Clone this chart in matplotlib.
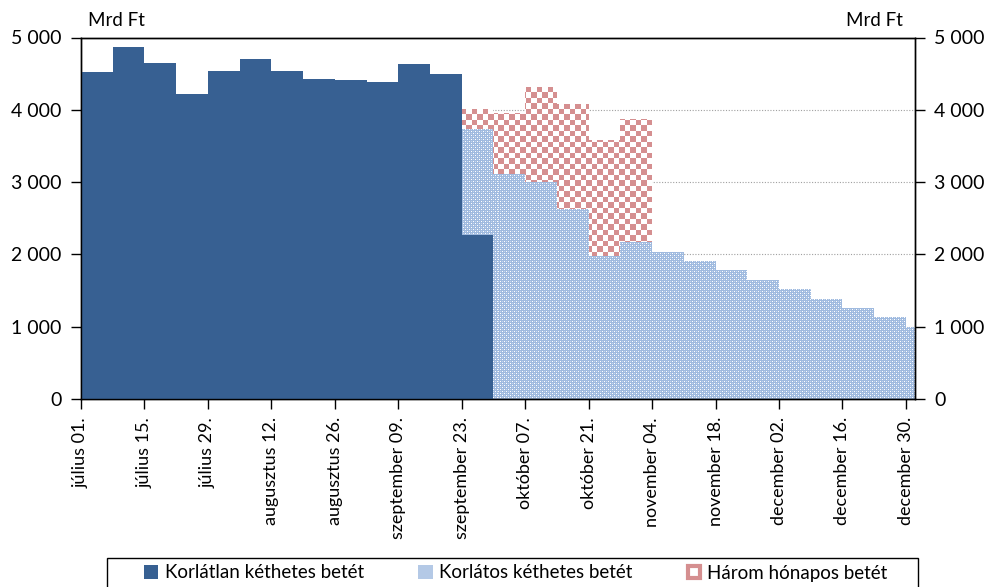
import numpy as np
import pandas as pd
import matplotlib
matplotlib.use('Agg')
import matplotlib.pyplot as plt
import matplotlib.dates as mdates
from matplotlib.lines import Line2D
from matplotlib.patches import Patch, Rectangle

plt.rcParams['font.family'] = ['Lato', 'DejaVu Sans']

# weekly values (Mrd Ft), week starting dates from 2015-07-01
weeks = pd.date_range('2015-07-01', periods=27, freq='7D')
x_end = pd.Timestamp('2016-01-01')

unlimited = [4527, 4864, 4643, 4219, 4541, 4698, 4532, 4422, 4408, 4389, 4633, 4500,
             2262, 0, 0, 0, 0, 0, 0, 0, 0, 0, 0, 0, 0, 0, 0]
limited = [0, 0, 0, 0, 0, 0, 0, 0, 0, 0, 0, 0,
           1468, 3112, 3006, 2628, 1982, 2167, 2037, 1909, 1780, 1646, 1517, 1387, 1254, 1130, 990]
three_month = [0, 0, 0, 0, 0, 0, 0, 0, 0, 0, 0, 0,
               285, 839, 1314, 1452, 1600, 1706, 0, 0, 0, 0, 0, 0, 0, 0, 0]

tick_dates = pd.date_range('2015-07-01', periods=14, freq='14D')
tick_labels = ['július 01.', 'július 15.', 'július 29.', 'augusztus 12.', 'augusztus 26.',
               'szeptember 09.', 'szeptember 23.', 'október 07.', 'október 21.',
               'november 04.', 'november 18.', 'december 02.', 'december 16.', 'december 30.']
y_ticks = [0, 1000, 2000, 3000, 4000, 5000]
y_labels = ['0', '1 000', '2 000', '3 000', '4 000', '5 000']
legend_labels = ['Korlátlan kéthetes betét', 'Korlátos kéthetes betét', 'Három hónapos betét']

dark_blue = '#376092'
light_blue = '#9fbadf'
pink = '#d58f90'

# step edges
xs = list(weeks) + [x_end]
u = np.array(unlimited + [unlimited[-1]], float)
l = np.array(limited + [limited[-1]], float)
t = np.array(three_month + [three_month[-1]], float)

fig = plt.figure(figsize=(9.86, 5.87), dpi=100)
ax = fig.add_axes([81/986, 1-399/587, (915-81)/986, (399-37.5)/587])

ax.fill_between(xs, 0, u, step='post', color=dark_blue, linewidth=0, zorder=3)
p_lim = ax.fill_between(xs, u, u+l, step='post', facecolor='none', linewidth=0, zorder=3)
p_three = ax.fill_between(xs, u+l, u+l+t, step='post', facecolor='none', linewidth=0, zorder=3)

# textures clipped to the polygons
W, H = 835, 362
ii, jj = np.indices((H, W))
x0, x1 = mdates.date2num(weeks[0]), mdates.date2num(x_end)

checker = ((ii // 5.5).astype(int) + (jj // 5.5).astype(int)) % 2 == 0
tex_red = np.ones((H, W, 4))
tex_red[checker] = matplotlib.colors.to_rgba(pink)
im1 = ax.imshow(tex_red, extent=[x0, x1, 0, 5000], aspect='auto', interpolation='nearest', zorder=2)
im1.set_clip_path(p_three.get_paths()[0], transform=ax.transData)

tex_blue = np.zeros((H, W, 4))
tex_blue[:] = matplotlib.colors.to_rgba(light_blue)
dots = ((ii % 4 == 0) & (jj % 4 == 0)) | ((ii % 4 == 2) & (jj % 4 == 2))
tex_blue[dots] = (1, 1, 1, 1)
soft = ((ii % 4 == 0) & (jj % 4 == 2)) | ((ii % 4 == 2) & (jj % 4 == 0))
tex_blue[soft] = matplotlib.colors.to_rgba('#c4d5ec')
im2 = ax.imshow(tex_blue, extent=[x0, x1, 0, 5000], aspect='auto', interpolation='nearest', zorder=2)
im2.set_clip_path(p_lim.get_paths()[0], transform=ax.transData)

ax.set_xlim(weeks[0], x_end)
ax.set_ylim(0, 5000)

for yv in y_ticks[1:-1]:
    ax.axhline(yv, color='#a0a0a0', linestyle=(0, (1, 1.5)), linewidth=0.8, zorder=1)

ax.set_xticks(tick_dates)
ax.set_xticklabels(tick_labels, rotation=90, fontsize=13)
ax.set_yticks(y_ticks)
ax.set_yticklabels(y_labels, fontsize=14)
ax.tick_params(axis='y', direction='out', length=7, width=1, color='black', pad=7)
ax.tick_params(axis='x', direction='out', length=7, width=1, color='black', pad=6)

ax2 = ax.twinx()
ax2.set_ylim(0, 5000)
ax2.set_yticks(y_ticks)
ax2.set_yticklabels(y_labels, fontsize=14)
ax2.tick_params(axis='y', direction='out', length=7, width=1, pad=7)

for a in (ax, ax2):
    for s in a.spines.values():
        s.set_color('black')
        s.set_linewidth(1)

fig.text(88/986, 1-20/587, 'Mrd Ft', fontsize=13.5, va='center', ha='left')
fig.text(903/986, 1-20/587, 'Mrd Ft', fontsize=13.5, va='center', ha='right')

# legend frame drawn separately (wider than its entries)
fig.patches.append(Rectangle((107/986, -0.02), (918-107)/986, (0.02 + 1-558/587),
                             transform=fig.transFigure, facecolor='white',
                             edgecolor='black', linewidth=1))
handles = [
    Patch(facecolor=dark_blue, edgecolor='none'),
    Patch(facecolor='#b4c9e6', edgecolor='none'),
    Line2D([], [], marker='s', linestyle='none', markersize=8, markerfacecolor='white',
           markeredgecolor=pink, markeredgewidth=3),
]
leg = fig.legend(handles, legend_labels, loc='center', bbox_to_anchor=(516/986, 1-573/587),
                 ncol=3, fontsize=13.5, frameon=False,
                 handlelength=0.75, handleheight=0.75, handletextpad=0.35, columnspacing=2.9,
                 borderpad=0, borderaxespad=0)

fig.savefig('out.png', dpi=100)
